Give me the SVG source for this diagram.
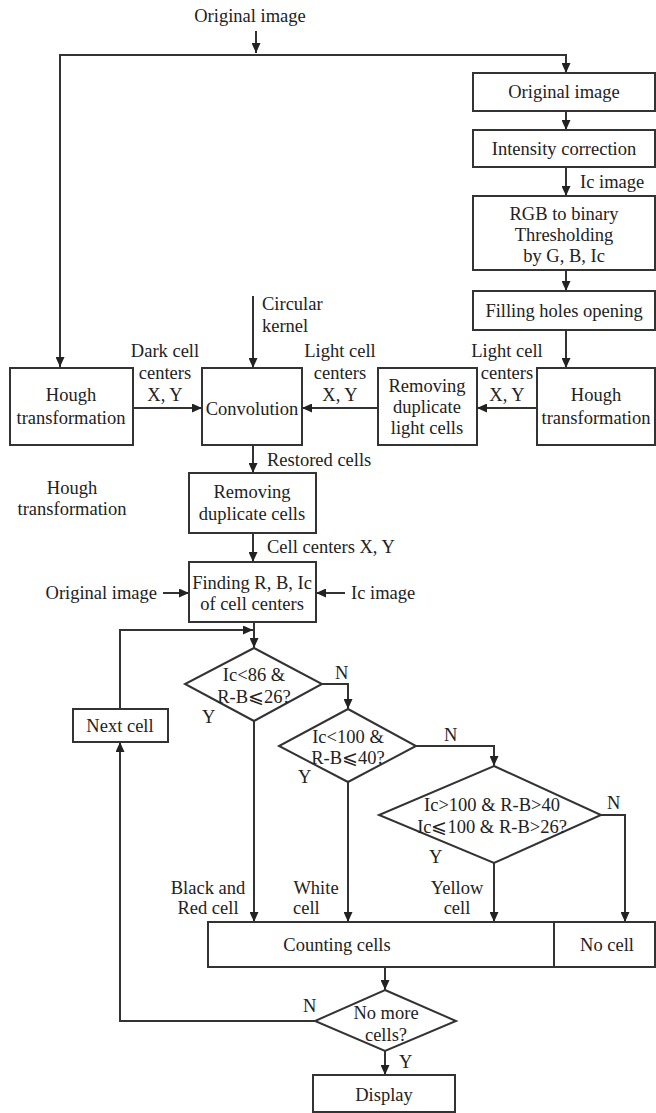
<svg xmlns="http://www.w3.org/2000/svg" width="656" height="1113" viewBox="0 0 656 1113">
<style>
text{font-family:"Liberation Serif","DejaVu Serif",serif;font-size:18.5px;fill:#222}
.c{text-anchor:middle}
.b{fill:#fff;stroke:#333;stroke-width:2}
.l{fill:none;stroke:#333;stroke-width:2}
</style>
<defs>
<marker id="a" markerUnits="userSpaceOnUse" markerWidth="10" markerHeight="9" refX="10" refY="4.5" orient="auto">
<path d="M0,0 L10,4.5 L0,9 z" fill="#222"/>
</marker>
</defs>
<rect width="656" height="1113" fill="#fff"/>
<g id="connectors" class="l">
<path class="l" d="M256,31 V53" marker-end="url(#a)"/>
<path class="l" d="M60,368 V55 H566 V73" marker-end="url(#a)"/>
<path class="l" d="M60,55 V367" marker-end="url(#a)"/>
<path class="l" d="M566,111 V130" marker-end="url(#a)"/>
<path class="l" d="M566,167 V196" marker-end="url(#a)"/>
<path class="l" d="M566,270 V291" marker-end="url(#a)"/>
<path class="l" d="M566,330 V368" marker-end="url(#a)"/>
<path class="l" d="M537,408 H477" marker-end="url(#a)"/>
<path class="l" d="M378,408 H302" marker-end="url(#a)"/>
<path class="l" d="M133,408 H202" marker-end="url(#a)"/>
<path class="l" d="M253,296 V368" marker-end="url(#a)"/>
<path class="l" d="M253,445 V473" marker-end="url(#a)"/>
<path class="l" d="M253,533 V562" marker-end="url(#a)"/>
<path class="l" d="M163,593 H189" marker-end="url(#a)"/>
<path class="l" d="M345,593 H316" marker-end="url(#a)"/>
<path class="l" d="M254,622 V648" marker-end="url(#a)"/>
<path class="l" d="M120,709 V630 H253" marker-end="url(#a)"/>
<path class="l" d="M322,684 H348 V709" marker-end="url(#a)"/>
<path class="l" d="M416,746 H494 V766" marker-end="url(#a)"/>
<path class="l" d="M601,815 H625 V922" marker-end="url(#a)"/>
<path class="l" d="M254,721 V922" marker-end="url(#a)"/>
<path class="l" d="M348,782 V922" marker-end="url(#a)"/>
<path class="l" d="M494,863 V922" marker-end="url(#a)"/>
<path class="l" d="M385,967 V990" marker-end="url(#a)"/>
<path class="l" d="M315,1021 H120 V742" marker-end="url(#a)"/>
<path class="l" d="M385,1051 V1075" marker-end="url(#a)"/>
</g>
<g id="labels">
<text x="250" y="22" class="c">Original image</text>
<text x="580" y="188">Ic image</text>
<text x="262" y="310">Circular</text>
<text x="262" y="332">kernel</text>
<text x="165" y="357" class="c">Dark cell</text>
<text x="165" y="379" class="c">centers</text>
<text x="165" y="401" class="c">X, Y</text>
<text x="340" y="357" class="c">Light cell</text>
<text x="340" y="379" class="c">centers</text>
<text x="340" y="401" class="c">X, Y</text>
<text x="507" y="357" class="c">Light cell</text>
<text x="507" y="379" class="c">centers</text>
<text x="507" y="401" class="c">X, Y</text>
<text x="267" y="466">Restored cells</text>
<text x="72" y="494" class="c">Hough</text>
<text x="72" y="515" class="c">transformation</text>
<text x="267" y="553">Cell centers X, Y</text>
<text x="157" y="599" text-anchor="end">Original image</text>
<text x="351" y="599">Ic image</text>
<text x="335" y="679">N</text>
<text x="202" y="723">Y</text>
<text x="444" y="741">N</text>
<text x="298" y="783">Y</text>
<text x="607" y="809">N</text>
<text x="429" y="863">Y</text>
<text x="208" y="894" class="c">Black and</text>
<text x="208" y="914" class="c">Red cell</text>
<text x="316" y="894" class="c">White</text>
<text x="293" y="914">cell</text>
<text x="457" y="894" class="c">Yellow</text>
<text x="457" y="914" class="c">cell</text>
<text x="303" y="1012">N</text>
<text x="399" y="1068">Y</text>
</g>
<g id="n-orig"><rect class="b" x="473" y="73" width="182" height="38"/><text x="564" y="98" class="c">Original image</text></g>
<g id="n-intensity"><rect class="b" x="473" y="130" width="182" height="37"/><text x="564" y="155" class="c">Intensity correction</text></g>
<g id="n-rgb"><rect class="b" x="473" y="196" width="182" height="74"/><text x="564" y="220" class="c">RGB to binary</text><text x="564" y="241" class="c">Thresholding</text><text x="564" y="262" class="c">by G, B, Ic</text></g>
<g id="n-fill"><rect class="b" x="473" y="291" width="182" height="39"/><text x="564" y="317" class="c">Filling holes opening</text></g>
<g id="n-hough-r"><rect class="b" x="537" y="368" width="118" height="77"/><text x="596" y="401" class="c">Hough</text><text x="596" y="424" class="c">transformation</text></g>
<g id="n-remove-light"><rect class="b" x="378" y="368" width="99" height="77"/><text x="427" y="392" class="c">Removing</text><text x="427" y="413" class="c">duplicate</text><text x="427" y="434" class="c">light cells</text></g>
<g id="n-conv"><rect class="b" x="202" y="368" width="100" height="77"/><text x="252" y="415" class="c">Convolution</text></g>
<g id="n-hough-l"><rect class="b" x="10" y="368" width="123" height="77"/><text x="71" y="401" class="c">Hough</text><text x="71" y="424" class="c">transformation</text></g>
<g id="n-remove"><rect class="b" x="189" y="473" width="127" height="60"/><text x="252" y="498" class="c">Removing</text><text x="252" y="520" class="c">duplicate cells</text></g>
<g id="n-find"><rect class="b" x="189" y="562" width="127" height="60"/><text x="252" y="589" class="c">Finding R, B, Ic</text><text x="252" y="610" class="c">of cell centers</text></g>
<g id="n-next"><rect class="b" x="73" y="709" width="95" height="33"/><text x="120" y="732" class="c">Next cell</text></g>
<g id="n-d1"><path class="b" d="M254,648 L322,684 L254,721 L185,684 Z"/><text x="254" y="681" class="c">Ic&lt;86 &amp;</text><text x="254" y="703" class="c">R-B⩽26?</text></g>
<g id="n-d2"><path class="b" d="M348,709 L416,746 L348,782 L279,746 Z"/><text x="348" y="743" class="c">Ic&lt;100 &amp;</text><text x="348" y="764" class="c">R-B⩽40?</text></g>
<g id="n-d3"><path class="b" d="M494,766 L601,815 L494,863 L379,815 Z"/><text x="492" y="811" class="c">Ic&gt;100 &amp; R-B&gt;40</text><text x="492" y="833" class="c">Ic⩽100 &amp; R-B&gt;26?</text></g>
<g id="n-count"><rect class="b" x="208" y="922" width="346" height="45"/><text x="337" y="951" class="c">Counting cells</text></g>
<g id="n-nocell"><rect class="b" x="554" y="922" width="101" height="45"/><text x="607" y="951" class="c">No cell</text></g>
<g id="n-d4"><path class="b" d="M385,990 L456,1021 L385,1051 L315,1021 Z"/><text x="386" y="1019" class="c">No more</text><text x="386" y="1041" class="c">cells?</text></g>
<g id="n-display"><rect class="b" x="313" y="1075" width="142" height="37"/><text x="384" y="1101" class="c">Display</text></g>
</svg>
